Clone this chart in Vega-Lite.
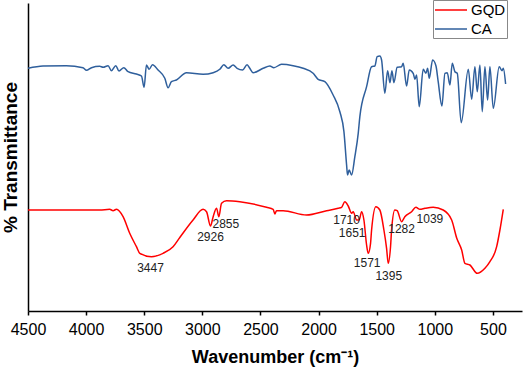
{
  "$schema": "https://vega.github.io/schema/vega-lite/v6.json",
  "width": 494,
  "height": 308,
  "autosize": "none",
  "padding": {"left": 28, "top": 3, "right": 2, "bottom": 56},
  "config": {
    "view": {"stroke": null},
    "font": "Liberation Sans"
  },
  "datasets": {
    "spectra": [
      {"series": "CA", "w": 4500, "t": 242.7},
      {"series": "CA", "w": 4371, "t": 245},
      {"series": "CA", "w": 4170, "t": 245.3},
      {"series": "CA", "w": 4027, "t": 243.3},
      {"series": "CA", "w": 3997, "t": 240.7},
      {"series": "CA", "w": 3954, "t": 243.3},
      {"series": "CA", "w": 3883, "t": 244.7},
      {"series": "CA", "w": 3854, "t": 243.7},
      {"series": "CA", "w": 3811, "t": 245.3},
      {"series": "CA", "w": 3782, "t": 240.3},
      {"series": "CA", "w": 3745, "t": 245.3},
      {"series": "CA", "w": 3717, "t": 240},
      {"series": "CA", "w": 3676, "t": 243.3},
      {"series": "CA", "w": 3639, "t": 239.3},
      {"series": "CA", "w": 3567, "t": 237},
      {"series": "CA", "w": 3524, "t": 235},
      {"series": "CA", "w": 3501, "t": 223.7},
      {"series": "CA", "w": 3481, "t": 246},
      {"series": "CA", "w": 3458, "t": 241.7},
      {"series": "CA", "w": 3429, "t": 246.3},
      {"series": "CA", "w": 3381, "t": 241},
      {"series": "CA", "w": 3323, "t": 232.7},
      {"series": "CA", "w": 3295, "t": 223.3},
      {"series": "CA", "w": 3266, "t": 229.3},
      {"series": "CA", "w": 3223, "t": 231},
      {"series": "CA", "w": 3137, "t": 238.3},
      {"series": "CA", "w": 2994, "t": 236.7},
      {"series": "CA", "w": 2907, "t": 238.3},
      {"series": "CA", "w": 2850, "t": 241.7},
      {"series": "CA", "w": 2815, "t": 246.3},
      {"series": "CA", "w": 2778, "t": 242.7},
      {"series": "CA", "w": 2735, "t": 246},
      {"series": "CA", "w": 2701, "t": 242.7},
      {"series": "CA", "w": 2654, "t": 241},
      {"series": "CA", "w": 2615, "t": 246.3},
      {"series": "CA", "w": 2592, "t": 242.7},
      {"series": "CA", "w": 2563, "t": 238.3},
      {"series": "CA", "w": 2477, "t": 242.7},
      {"series": "CA", "w": 2419, "t": 245},
      {"series": "CA", "w": 2385, "t": 243.3},
      {"series": "CA", "w": 2319, "t": 246.7},
      {"series": "CA", "w": 2219, "t": 245.3},
      {"series": "CA", "w": 2133, "t": 242.7},
      {"series": "CA", "w": 2047, "t": 237.7},
      {"series": "CA", "w": 2004, "t": 231.7},
      {"series": "CA", "w": 1946, "t": 229.3},
      {"series": "CA", "w": 1875, "t": 216},
      {"series": "CA", "w": 1817, "t": 199.3},
      {"series": "CA", "w": 1782, "t": 179.3},
      {"series": "CA", "w": 1759, "t": 146},
      {"series": "CA", "w": 1751, "t": 136},
      {"series": "CA", "w": 1737, "t": 141},
      {"series": "CA", "w": 1716, "t": 136},
      {"series": "CA", "w": 1688, "t": 154.3},
      {"series": "CA", "w": 1659, "t": 177.7},
      {"series": "CA", "w": 1645, "t": 194.3},
      {"series": "CA", "w": 1587, "t": 224.3},
      {"series": "CA", "w": 1544, "t": 244.3},
      {"series": "CA", "w": 1516, "t": 245},
      {"series": "CA", "w": 1496, "t": 254.3},
      {"series": "CA", "w": 1473, "t": 255},
      {"series": "CA", "w": 1458, "t": 251},
      {"series": "CA", "w": 1430, "t": 217.7},
      {"series": "CA", "w": 1406, "t": 240.3},
      {"series": "CA", "w": 1386, "t": 228.3},
      {"series": "CA", "w": 1369, "t": 240.3},
      {"series": "CA", "w": 1352, "t": 228.3},
      {"series": "CA", "w": 1324, "t": 243.7},
      {"series": "CA", "w": 1286, "t": 244.3},
      {"series": "CA", "w": 1272, "t": 247.7},
      {"series": "CA", "w": 1243, "t": 225},
      {"series": "CA", "w": 1220, "t": 241},
      {"series": "CA", "w": 1186, "t": 237.7},
      {"series": "CA", "w": 1171, "t": 231.7},
      {"series": "CA", "w": 1157, "t": 236},
      {"series": "CA", "w": 1134, "t": 204.3},
      {"series": "CA", "w": 1100, "t": 241.7},
      {"series": "CA", "w": 1077, "t": 237.7},
      {"series": "CA", "w": 1062, "t": 242.7},
      {"series": "CA", "w": 1048, "t": 232.7},
      {"series": "CA", "w": 1019, "t": 251},
      {"series": "CA", "w": 990, "t": 245},
      {"series": "CA", "w": 971, "t": 229.3},
      {"series": "CA", "w": 939, "t": 205},
      {"series": "CA", "w": 913, "t": 237.7},
      {"series": "CA", "w": 893, "t": 238.3},
      {"series": "CA", "w": 870, "t": 226},
      {"series": "CA", "w": 850, "t": 247.7},
      {"series": "CA", "w": 827, "t": 239.3},
      {"series": "CA", "w": 807, "t": 237.7},
      {"series": "CA", "w": 773, "t": 188.3},
      {"series": "CA", "w": 712, "t": 241.7},
      {"series": "CA", "w": 683, "t": 211.7},
      {"series": "CA", "w": 655, "t": 244.3},
      {"series": "CA", "w": 635, "t": 219.3},
      {"series": "CA", "w": 612, "t": 246},
      {"series": "CA", "w": 592, "t": 199.3},
      {"series": "CA", "w": 569, "t": 244.3},
      {"series": "CA", "w": 546, "t": 211},
      {"series": "CA", "w": 526, "t": 244.3},
      {"series": "CA", "w": 497, "t": 202.7},
      {"series": "CA", "w": 446, "t": 244.3},
      {"series": "CA", "w": 422, "t": 240.3},
      {"series": "CA", "w": 411, "t": 242.7},
      {"series": "CA", "w": 391, "t": 227},
      {"series": "GQD", "w": 4500, "t": 101},
      {"series": "GQD", "w": 3883, "t": 101},
      {"series": "GQD", "w": 3797, "t": 101.7},
      {"series": "GQD", "w": 3768, "t": 100.3},
      {"series": "GQD", "w": 3739, "t": 101.7},
      {"series": "GQD", "w": 3682, "t": 94.3},
      {"series": "GQD", "w": 3625, "t": 77.7},
      {"series": "GQD", "w": 3567, "t": 64.3},
      {"series": "GQD", "w": 3538, "t": 57.7},
      {"series": "GQD", "w": 3438, "t": 54.3},
      {"series": "GQD", "w": 3338, "t": 57.7},
      {"series": "GQD", "w": 3252, "t": 64.3},
      {"series": "GQD", "w": 3194, "t": 73.5},
      {"series": "GQD", "w": 3080, "t": 91},
      {"series": "GQD", "w": 2994, "t": 101.7},
      {"series": "GQD", "w": 2964, "t": 99.3},
      {"series": "GQD", "w": 2930, "t": 85},
      {"series": "GQD", "w": 2907, "t": 94.3},
      {"series": "GQD", "w": 2878, "t": 102.7},
      {"series": "GQD", "w": 2858, "t": 94.3},
      {"series": "GQD", "w": 2835, "t": 107.7},
      {"series": "GQD", "w": 2792, "t": 110.3},
      {"series": "GQD", "w": 2678, "t": 109.3},
      {"series": "GQD", "w": 2448, "t": 103.7},
      {"series": "GQD", "w": 2391, "t": 101.7},
      {"series": "GQD", "w": 2376, "t": 97},
      {"series": "GQD", "w": 2362, "t": 100.3},
      {"series": "GQD", "w": 2305, "t": 100.3},
      {"series": "GQD", "w": 2104, "t": 96},
      {"series": "GQD", "w": 1931, "t": 100.3},
      {"series": "GQD", "w": 1831, "t": 102.7},
      {"series": "GQD", "w": 1802, "t": 103.7},
      {"series": "GQD", "w": 1774, "t": 109.3},
      {"series": "GQD", "w": 1745, "t": 105},
      {"series": "GQD", "w": 1716, "t": 97.7},
      {"series": "GQD", "w": 1702, "t": 99.3},
      {"series": "GQD", "w": 1673, "t": 91},
      {"series": "GQD", "w": 1651, "t": 91},
      {"series": "GQD", "w": 1630, "t": 99.3},
      {"series": "GQD", "w": 1610, "t": 91},
      {"series": "GQD", "w": 1587, "t": 66},
      {"series": "GQD", "w": 1573, "t": 57.7},
      {"series": "GQD", "w": 1553, "t": 67.7},
      {"series": "GQD", "w": 1544, "t": 81},
      {"series": "GQD", "w": 1507, "t": 104.3},
      {"series": "GQD", "w": 1473, "t": 101},
      {"series": "GQD", "w": 1438, "t": 81},
      {"series": "GQD", "w": 1415, "t": 62.7},
      {"series": "GQD", "w": 1401, "t": 47.7},
      {"series": "GQD", "w": 1381, "t": 64.3},
      {"series": "GQD", "w": 1372, "t": 81},
      {"series": "GQD", "w": 1344, "t": 101},
      {"series": "GQD", "w": 1324, "t": 100.3},
      {"series": "GQD", "w": 1286, "t": 89.3},
      {"series": "GQD", "w": 1258, "t": 94.3},
      {"series": "GQD", "w": 1200, "t": 99.3},
      {"series": "GQD", "w": 1163, "t": 103.7},
      {"series": "GQD", "w": 1128, "t": 101.7},
      {"series": "GQD", "w": 1085, "t": 102.7},
      {"series": "GQD", "w": 1014, "t": 103.7},
      {"series": "GQD", "w": 928, "t": 101},
      {"series": "GQD", "w": 855, "t": 91},
      {"series": "GQD", "w": 812, "t": 73},
      {"series": "GQD", "w": 769, "t": 61},
      {"series": "GQD", "w": 741, "t": 47.7},
      {"series": "GQD", "w": 698, "t": 46},
      {"series": "GQD", "w": 635, "t": 37.7},
      {"series": "GQD", "w": 569, "t": 42.7},
      {"series": "GQD", "w": 526, "t": 49.3},
      {"series": "GQD", "w": 468, "t": 64.3},
      {"series": "GQD", "w": 440, "t": 81},
      {"series": "GQD", "w": 411, "t": 101.7}
    ],
    "peaks": [
      {"label": "3447", "w": 3446, "t": 42.7},
      {"label": "2926", "w": 2930, "t": 73.7},
      {"label": "2855", "w": 2798, "t": 86.7},
      {"label": "1710", "w": 1759, "t": 91},
      {"label": "1651", "w": 1711, "t": 77.7},
      {"label": "1282", "w": 1286, "t": 81.7},
      {"label": "1039", "w": 1042, "t": 91.7},
      {"label": "1571", "w": 1582, "t": 47.7},
      {"label": "1395", "w": 1396, "t": 35.3}
    ]
  },
  "layer": [
    {
      "data": {"name": "spectra"},
      "mark": {"type": "line", "strokeWidth": 1.5, "interpolate": "monotone"},
      "encoding": {
        "x": {
          "field": "w",
          "type": "quantitative",
          "scale": {"domain": [250, 4500], "reverse": true, "nice": false, "zero": false},
          "axis": {
            "title": "Wavenumber (cm⁻¹)",
            "titleFontSize": 18,
            "titleFontWeight": "bold",
            "titleColor": "black",
            "titleBaseline": "alphabetic",
            "titleY": 51,
            "values": [4500, 4250, 4000, 3750, 3500, 3250, 3000, 2750, 2500, 2250, 2000, 1750, 1500, 1250, 1000, 750, 500],
            "format": "d",
            "labelExpr": "datum.value % 500 === 0 ? datum.label : ''",
            "labelFontSize": 16,
            "labelColor": "black",
            "labelPadding": 6,
            "labelFlush": false,
            "labelOverlap": false,
            "tickSize": 4,
            "tickWidth": 1.5,
            "tickColor": "black",
            "domainColor": "black",
            "domainWidth": 1.5,
            "grid": false
          }
        },
        "y": {
          "field": "t",
          "type": "quantitative",
          "scale": {"domain": [0, 308], "nice": false, "zero": false},
          "axis": {
            "title": "% Transmittance",
            "titleFontSize": 19,
            "titleFontWeight": "bold",
            "titleColor": "black",
            "titleAngle": 270,
            "titleAlign": "center",
            "titleBaseline": "alphabetic",
            "titleX": -12,
            "titleY": 154,
            "labels": false,
            "ticks": false,
            "grid": false,
            "domainColor": "black",
            "domainWidth": 1.5
          }
        },
        "color": {
          "field": "series",
          "type": "nominal",
          "scale": {"domain": ["GQD", "CA"], "range": ["#ff0000", "#2f5f9c"]},
          "legend": {
            "title": null,
            "orient": "none",
            "legendX": 405,
            "legendY": -3,
            "symbolType": "M-2,0H2",
            "symbolSize": 256,
            "symbolOffset": 8,
            "symbolStrokeWidth": 1.5,
            "labelFontSize": 15,
            "labelColor": "black",
            "labelOffset": 11,
            "rowPadding": 2,
            "padding": 1,
            "strokeColor": "#888888",
            "fillColor": "white"
          }
        }
      }
    },
    {
      "data": {"name": "peaks"},
      "mark": {"type": "text", "fontSize": 12, "color": "#222222", "align": "center", "baseline": "middle"},
      "encoding": {
        "x": {"field": "w", "type": "quantitative"},
        "y": {"field": "t", "type": "quantitative"},
        "text": {"field": "label", "type": "nominal"}
      }
    }
  ]
}
